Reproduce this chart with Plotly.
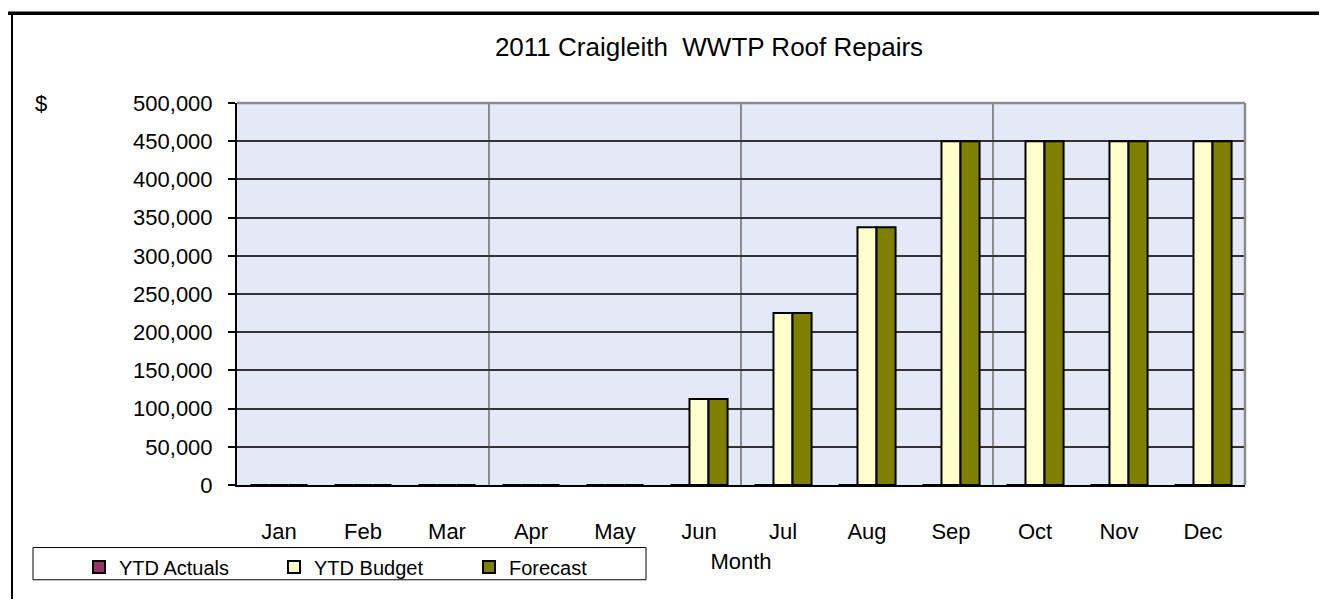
import plotly.graph_objects as go

months = ["Jan", "Feb", "Mar", "Apr", "May", "Jun", "Jul", "Aug", "Sep", "Oct", "Nov", "Dec"]
ytd_actuals = [0, 0, 0, 0, 0, 0, 0, 0, 0, 0, 0, 0]
ytd_budget = [0, 0, 0, 0, 0, 112500, 225000, 337500, 450000, 450000, 450000, 450000]
forecast = [0, 0, 0, 0, 0, 112500, 225000, 337500, 450000, 450000, 450000, 450000]

title_text = "2011 Craigleith  WWTP Roof Repairs"
FONT = "Liberation Sans, Arial, sans-serif"

# The page body has an 8px default margin on every side; size the figure so the page
# fits the 1327x607 window exactly, and work in reference-pixel coordinates minus 8.
OFF = 8
W, H = 1327 - 2 * OFF, 607 - 2 * OFF
L = 237 - OFF
T = 103 - OFF
R = W - (1245 - OFF)
B = H - (500 - OFF)
PW, PH = W - L - R, H - T - B


def px_x(p):
    return (p - OFF - L) / PW


def px_y(p):
    return (H - B - (p - OFF)) / PH


fig = go.Figure()
fig.add_trace(go.Bar(x=months, y=ytd_actuals, name="YTD Actuals",
                     marker=dict(color="#993366", line=dict(color="black", width=2))))
fig.add_trace(go.Bar(x=months, y=ytd_budget, name="YTD Budget",
                     marker=dict(color="#FFFFCC", line=dict(color="black", width=2))))
fig.add_trace(go.Bar(x=months, y=forecast, name="Forecast",
                     marker=dict(color="#808000", line=dict(color="black", width=2))))

shapes = []
n = len(months)
# vertical gridlines every 3 months (category boundaries)
for i in range(3, n, 3):
    shapes.append(dict(type="line", xref="x", yref="y domain", x0=i - 0.5, x1=i - 0.5,
                       y0=0, y1=1, line=dict(color="#8C8C8C", width=2), layer="below"))
# tick marks on x axis every 3 months
for i in range(0, n + 1, 3):
    shapes.append(dict(type="line", xref="x", yref="y", ysizemode="pixel", yanchor=0,
                       x0=i - 0.5, x1=i - 0.5, y0=0, y1=-7,
                       line=dict(color="black", width=1.5), layer="above"))
# top/right plot border (grey)
shapes.append(dict(type="line", xref="paper", yref="paper", x0=0, x1=1, y0=1, y1=1,
                   line=dict(color="#8C8C8C", width=2.5)))
shapes.append(dict(type="line", xref="paper", yref="paper", x0=1, x1=1, y0=0, y1=1,
                   line=dict(color="#8C8C8C", width=2.5)))

# chart frame: thick top line and left border
shapes.append(dict(type="line", xref="paper", yref="paper", x0=px_x(0), x1=px_x(1340),
                   y0=px_y(9.8), y1=px_y(9.8), line=dict(color="black", width=3.5)))
shapes.append(dict(type="line", xref="paper", yref="paper", x0=px_x(12), x1=px_x(12),
                   y0=px_y(10), y1=px_y(620), line=dict(color="black", width=2)))
# legend box
shapes.append(dict(type="rect", xref="paper", yref="paper", x0=px_x(33), x1=px_x(646),
                   y0=px_y(598.5), y1=px_y(565), line=dict(color="black", width=1),
                   fillcolor="rgba(0,0,0,0)"))

fig.update_layout(
    width=W, height=H, autosize=False,
    margin=dict(l=L, r=R, t=T, b=B),
    paper_bgcolor="white",
    plot_bgcolor="#E3E9F6",
    font=dict(family=FONT, size=22, color="black"),
    title=dict(text=title_text, x=(709 - OFF) / W, xanchor="center", xref="container",
               y=1 - (47 - OFF) / H, yanchor="middle", yref="container",
               font=dict(family=FONT, size=26, color="black")),
    barmode="group",
    bargap=0.32,
    bargroupgap=0,
    shapes=shapes,
    showlegend=True,
    legend=dict(orientation="h", x=px_x(79), xanchor="left", y=px_y(565), yanchor="top",
                borderwidth=0, bgcolor="rgba(0,0,0,0)",
                font=dict(family=FONT, size=20, color="black"),
                entrywidth=150, entrywidthmode="pixels", traceorder="normal"),
    xaxis=dict(type="category", range=[-0.5, n - 0.5], showgrid=False,
               showline=True, linecolor="black", linewidth=2, ticks="",
               ticklabelstandoff=26, tickfont=dict(size=22),
               title=dict(text="Month", standoff=10, font=dict(size=22))),
    yaxis=dict(range=[0, 500000], dtick=50000, tickformat=",", showgrid=True,
               gridcolor="#333333", gridwidth=1.5, zeroline=False,
               showline=True, linecolor="black", linewidth=2,
               ticks="outside", ticklen=7, tickwidth=1.5, tickcolor="black",
               ticklabelstandoff=11, tickfont=dict(size=22)),
    annotations=[dict(text="$", xref="paper", yref="paper", x=px_x(41), y=1,
                      xanchor="center", yanchor="middle", showarrow=False,
                      font=dict(family=FONT, size=22, color="black"))],
)

fig.write_html("out.html")
